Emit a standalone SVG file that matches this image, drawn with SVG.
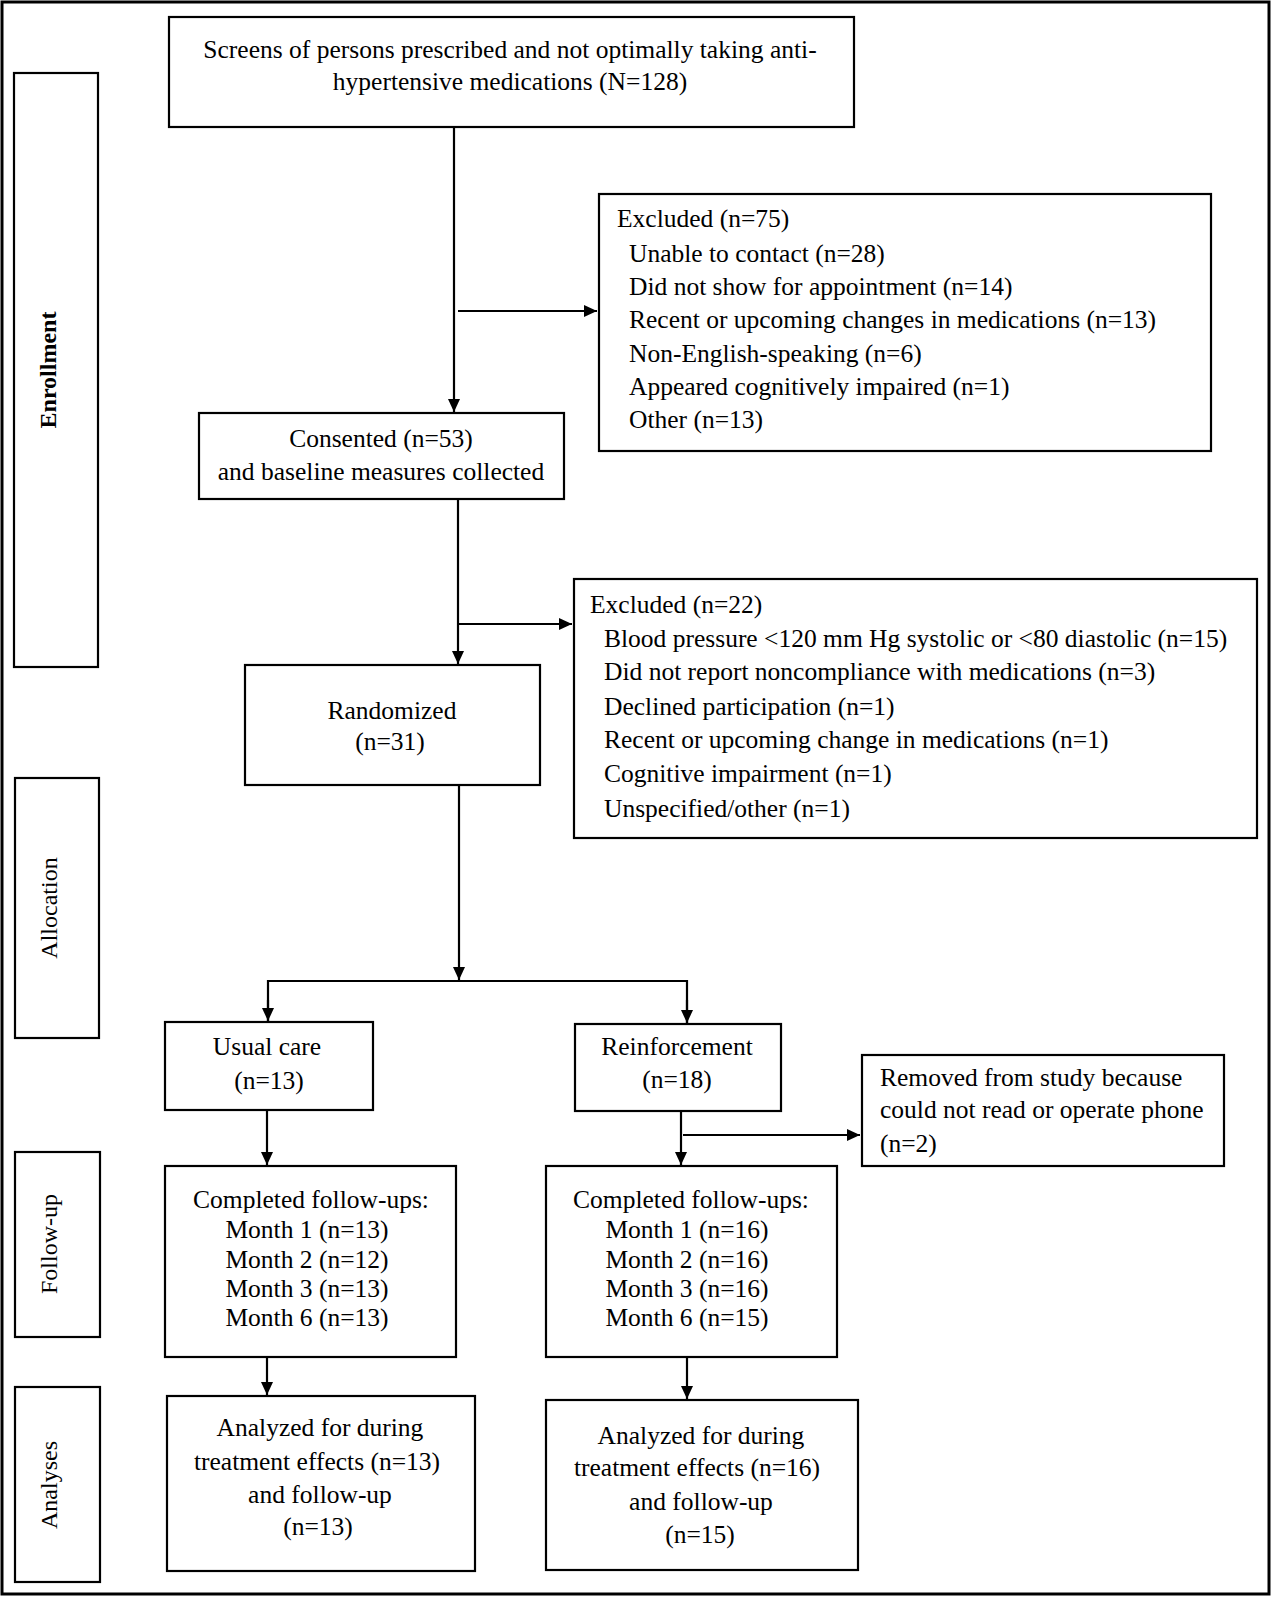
<svg xmlns="http://www.w3.org/2000/svg" width="1272" height="1597" viewBox="0 0 1272 1597">
<style>
.box{fill:#fff;stroke:#000;stroke-width:2.2}
.lab{fill:#fff;stroke:#000;stroke-width:2.2}
.t{font-family:"Liberation Serif","Times New Roman",serif;font-size:25.5px;fill:#000}
.c{text-anchor:middle}
.s{font-family:"Liberation Serif","Times New Roman",serif;font-size:24px;fill:#000;text-anchor:middle}
.conn{stroke:#000;stroke-width:2.2;fill:none}
</style>
<defs>
<marker id="ah" markerUnits="userSpaceOnUse" markerWidth="14" markerHeight="12" refX="13" refY="6" orient="auto">
<path d="M0,0 L13,6 L0,12 Z" fill="#000"/>
</marker>
</defs>
<rect x="2" y="2" width="1267" height="1592" fill="#fff" stroke="#000" stroke-width="3"/>

<g id="lab-enrollment"><rect class="lab" x="14" y="73" width="84" height="594"/><text class="s" font-weight="bold" transform="translate(56,370) rotate(-90)">Enrollment</text></g>
<g id="lab-allocation"><rect class="lab" x="15" y="778" width="84" height="260"/><text class="s" transform="translate(57,908) rotate(-90)">Allocation</text></g>
<g id="lab-followup"><rect class="lab" x="15" y="1152" width="85" height="185"/><text class="s" transform="translate(57,1244) rotate(-90)">Follow-up</text></g>
<g id="lab-analyses"><rect class="lab" x="15" y="1387" width="85" height="195"/><text class="s" transform="translate(57,1485) rotate(-90)">Analyses</text></g>

<g id="screens"><rect class="box" x="169" y="17" width="685" height="110"/>
<text class="t c" x="510" y="58">Screens of persons prescribed and not optimally taking anti-</text>
<text class="t c" x="510" y="90">hypertensive medications (N=128)</text></g>

<g id="excluded1"><rect class="box" x="599" y="194" width="612" height="257"/>
<text class="t" x="617" y="227">Excluded (n=75)</text>
<text class="t" x="629" y="262">Unable to contact (n=28)</text>
<text class="t" x="629" y="295">Did not show for appointment (n=14)</text>
<text class="t" x="629" y="328">Recent or upcoming changes in medications (n=13)</text>
<text class="t" x="629" y="362">Non-English-speaking (n=6)</text>
<text class="t" x="629" y="395">Appeared cognitively impaired (n=1)</text>
<text class="t" x="629" y="428">Other (n=13)</text></g>

<g id="consented"><rect class="box" x="199" y="413" width="365" height="86"/>
<text class="t c" x="381" y="447">Consented (n=53)</text>
<text class="t c" x="381" y="480">and baseline measures collected</text></g>

<g id="excluded2"><rect class="box" x="574" y="579" width="683" height="259"/>
<text class="t" x="590" y="613">Excluded (n=22)</text>
<text class="t" x="604" y="647">Blood pressure &lt;120 mm Hg systolic or &lt;80 diastolic (n=15)</text>
<text class="t" x="604" y="680">Did not report noncompliance with medications (n=3)</text>
<text class="t" x="604" y="715">Declined participation (n=1)</text>
<text class="t" x="604" y="748">Recent or upcoming change in medications (n=1)</text>
<text class="t" x="604" y="782">Cognitive impairment (n=1)</text>
<text class="t" x="604" y="817">Unspecified/other (n=1)</text></g>

<g id="randomized"><rect class="box" x="245" y="665" width="295" height="120"/>
<text class="t c" x="392" y="719">Randomized</text>
<text class="t c" x="390" y="750">(n=31)</text></g>

<g id="usualcare"><rect class="box" x="165" y="1022" width="208" height="88"/>
<text class="t c" x="267" y="1055">Usual care</text>
<text class="t c" x="269" y="1089">(n=13)</text></g>

<g id="reinforcement"><rect class="box" x="575" y="1024" width="206" height="87"/>
<text class="t c" x="677" y="1055">Reinforcement</text>
<text class="t c" x="677" y="1088">(n=18)</text></g>

<g id="removed"><rect class="box" x="862" y="1055" width="362" height="111"/>
<text class="t" x="880" y="1086">Removed from study because</text>
<text class="t" x="880" y="1118">could not read or operate phone</text>
<text class="t" x="880" y="1152">(n=2)</text></g>

<g id="fu-left"><rect class="box" x="165" y="1166" width="291" height="191"/>
<text class="t c" x="311" y="1208">Completed follow-ups:</text>
<text class="t c" x="307" y="1238">Month 1 (n=13)</text>
<text class="t c" x="307" y="1268">Month 2 (n=12)</text>
<text class="t c" x="307" y="1297">Month 3 (n=13)</text>
<text class="t c" x="307" y="1326">Month 6 (n=13)</text></g>

<g id="fu-right"><rect class="box" x="546" y="1166" width="291" height="191"/>
<text class="t c" x="691" y="1208">Completed follow-ups:</text>
<text class="t c" x="687" y="1238">Month 1 (n=16)</text>
<text class="t c" x="687" y="1268">Month 2 (n=16)</text>
<text class="t c" x="687" y="1297">Month 3 (n=16)</text>
<text class="t c" x="687" y="1326">Month 6 (n=15)</text></g>

<g id="an-left"><rect class="box" x="167" y="1396" width="308" height="175"/>
<text class="t c" x="320" y="1436">Analyzed for during</text>
<text class="t c" x="317" y="1470">treatment effects (n=13)</text>
<text class="t c" x="320" y="1503">and follow-up</text>
<text class="t c" x="318" y="1535">(n=13)</text></g>

<g id="an-right"><rect class="box" x="546" y="1400" width="312" height="170"/>
<text class="t c" x="701" y="1444">Analyzed for during</text>
<text class="t c" x="697" y="1476">treatment effects (n=16)</text>
<text class="t c" x="701" y="1510">and follow-up</text>
<text class="t c" x="700" y="1543">(n=15)</text></g>

<g id="connectors">
<line class="conn" x1="454" y1="127" x2="454" y2="412" marker-end="url(#ah)"/>
<line class="conn" x1="458" y1="311" x2="597" y2="311" marker-end="url(#ah)"/>
<line class="conn" x1="458" y1="499" x2="458" y2="664" marker-end="url(#ah)"/>
<line class="conn" x1="458" y1="624" x2="572" y2="624" marker-end="url(#ah)"/>
<line class="conn" x1="459" y1="785" x2="459" y2="980" marker-end="url(#ah)"/>
<polyline class="conn" points="268,1021 268,981 687,981 687,1023"/>
<line class="conn" x1="268" y1="1000" x2="268" y2="1021" marker-end="url(#ah)"/>
<line class="conn" x1="687" y1="1000" x2="687" y2="1023" marker-end="url(#ah)"/>
<line class="conn" x1="267" y1="1110" x2="267" y2="1165" marker-end="url(#ah)"/>
<line class="conn" x1="681" y1="1111" x2="681" y2="1165" marker-end="url(#ah)"/>
<line class="conn" x1="683" y1="1135" x2="860" y2="1135" marker-end="url(#ah)"/>
<line class="conn" x1="267" y1="1357" x2="267" y2="1395" marker-end="url(#ah)"/>
<line class="conn" x1="687" y1="1357" x2="687" y2="1399" marker-end="url(#ah)"/>
</g>
</svg>
